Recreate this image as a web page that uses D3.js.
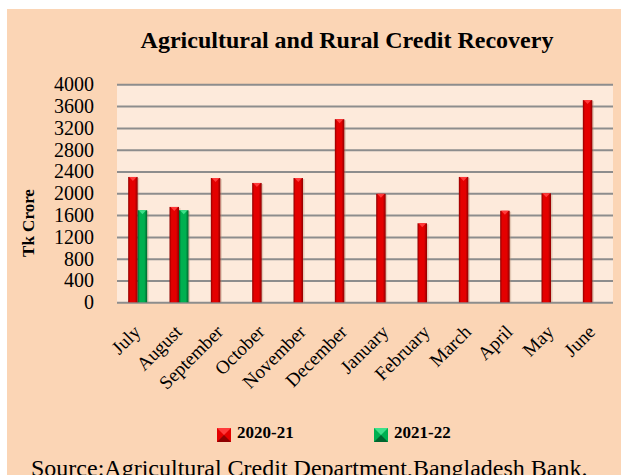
<!DOCTYPE html>
<html>
<head>
<meta charset="utf-8">
<script src="https://cdn.jsdelivr.net/npm/d3@7/dist/d3.min.js"></script>
<style>
  html, body { margin: 0; padding: 0; background: #ffffff; }
  svg { display: block; font-family: "Liberation Serif", "Times New Roman", serif; }
</style>
</head>
<body>
<div id="chart"></div>
<script>
    // data
    var months = ["July", "August", "September", "October", "November", "December",
                  "January", "February", "March", "April", "May", "June"];
    var series = ["2020-21", "2021-22"];
    var values2020 = [2300, 1750, 2280, 2190, 2280, 3360, 1990, 1450, 2300, 1680, 2000, 3710];
    var values2021 = [1690, 1690, null, null, null, null, null, null, null, null, null, null];
    var yTicks = [0, 400, 800, 1200, 1600, 2000, 2400, 2800, 3200, 3600, 4000];

    var colors = {
        "2020-21": { dark: "#8e0000", mid: "#e40000", light: "#ff3a3a" },
        "2021-22": { dark: "#00652e", mid: "#00b050", light: "#3ee08a" }
    };

    var W = 621, H = 475;
    var plot = { left: 117, right: 613, top: 84.3, bottom: 302.3 };

    var svg = d3.select("#chart").append("svg")
        .attr("width", W)
        .attr("height", H);

    var defs = svg.append("defs");
    series.forEach(function (s, i) {
        var g = defs.append("linearGradient")
            .attr("id", "grad" + i)
            .attr("x1", "0").attr("x2", "1").attr("y1", "0").attr("y2", "0");
        g.append("stop").attr("offset", "0%").attr("stop-color", colors[s].dark);
        g.append("stop").attr("offset", "22%").attr("stop-color", colors[s].mid);
        g.append("stop").attr("offset", "70%").attr("stop-color", colors[s].mid);
        g.append("stop").attr("offset", "100%").attr("stop-color", colors[s].dark);
    });

    // background
    svg.append("rect")
        .attr("x", 7).attr("y", 9)
        .attr("width", W - 7).attr("height", H - 9)
        .attr("fill", "#fbd5b5");

    svg.append("rect")
        .attr("x", plot.left).attr("y", plot.top)
        .attr("width", plot.right - plot.left).attr("height", plot.bottom - plot.top)
        .attr("fill", "#fdeadb");

    // scales
    var x0 = d3.scaleBand()
        .domain(months)
        .range([plot.left, plot.right])
        .paddingInner(0.54)
        .paddingOuter(0.27);

    var x1 = d3.scaleBand()
        .domain(series)
        .range([0, x0.bandwidth()]);

    var y = d3.scaleLinear()
        .domain([0, 4000])
        .range([plot.bottom, plot.top]);

    // y axis with gridlines
    var yAxis = svg.append("g")
        .attr("transform", "translate(" + plot.left + ",0)")
        .call(d3.axisLeft(y).tickValues(yTicks).tickFormat(d3.format("d"))
            .tickSize(-(plot.right - plot.left)).tickPadding(23));

    yAxis.select(".domain").remove();
    yAxis.selectAll(".tick line")
        .attr("stroke", "#8d8d8d")
        .attr("stroke-width", 2);
    yAxis.selectAll(".tick text")
        .attr("fill", "#000")
        .style("font-size", "20px")
        .style("font-family", "'Liberation Serif', 'Times New Roman', serif");

    // bars
    var rows = months.map(function (m, i) {
        return { month: m, vals: [
            { key: "2020-21", idx: 0, v: values2020[i] },
            { key: "2021-22", idx: 1, v: values2021[i] }
        ].filter(function (d) { return d.v != null; }) };
    });

    var groups = svg.append("g").selectAll("g")
        .data(rows)
        .enter().append("g")
        .attr("transform", function (d) { return "translate(" + x0(d.month) + ",0)"; });

    var bar = groups.selectAll("g")
        .data(function (d) { return d.vals; })
        .enter().append("g");

    // soft shadow
    bar.append("rect")
        .attr("x", function (d) { return x1(d.key) + 1.5; })
        .attr("y", function (d) { return y(d.v) + 1; })
        .attr("width", x1.bandwidth())
        .attr("height", function (d) { return plot.bottom - y(d.v) - 1; })
        .attr("fill", "#b08a70")
        .attr("opacity", 0.35);

    bar.append("rect")
        .attr("x", function (d) { return x1(d.key); })
        .attr("y", function (d) { return y(d.v); })
        .attr("width", x1.bandwidth())
        .attr("height", function (d) { return plot.bottom - y(d.v); })
        .attr("fill", function (d) { return "url(#grad" + d.idx + ")"; });

    // little bevel on the top of each bar
    bar.append("path")
        .attr("d", function (d) {
            var bx = x1(d.key), bw = x1.bandwidth(), by = y(d.v);
            return "M" + (bx + 1) + "," + by + "L" + (bx + bw - 1) + "," + by +
                   "L" + (bx + bw / 2) + "," + (by + 4) + "Z";
        })
        .attr("fill", function (d) { return colors[d.key].light; });

    // x labels
    svg.append("g").selectAll("text")
        .data(months)
        .enter().append("text")
        .attr("transform", function (d) {
            return "translate(" + (x0(d) + x0.bandwidth() / 2 + 4) + ",333) rotate(-45)";
        })
        .attr("text-anchor", "end")
        .style("font-size", "19px")
        .text(function (d) { return d; });

    // title
    svg.append("text")
        .attr("x", 347).attr("y", 48)
        .attr("text-anchor", "middle")
        .style("font-size", "24px")
        .style("font-weight", "bold")
        .text("Agricultural and Rural Credit Recovery");

    // y axis title
    svg.append("text")
        .attr("transform", "translate(34,223) rotate(-90)")
        .attr("text-anchor", "middle")
        .style("font-size", "17px")
        .style("font-weight", "bold")
        .text("Tk Crore");

    // legend
    var legendX = [217, 374];
    var legend = svg.append("g").selectAll("g")
        .data(series)
        .enter().append("g")
        .attr("transform", function (d, i) { return "translate(" + legendX[i] + ",428)"; });

    legend.append("rect")
        .attr("width", 14).attr("height", 14)
        .attr("fill", function (d) { return colors[d].mid; });
    legend.append("path")
        .attr("d", "M0,0L14,0L7,7Z")
        .attr("fill", function (d) { return colors[d].light; });
    legend.append("path")
        .attr("d", "M0,14L14,14L7,7Z")
        .attr("fill", function (d) { return colors[d].dark; });

    legend.append("text")
        .attr("x", 20).attr("y", 10)
        .style("font-size", "17px")
        .style("font-weight", "bold")
        .text(function (d) { return d; });

    // source (cut by the bottom edge, as in the original)
    svg.append("text")
        .attr("x", 31).attr("y", 476)
        .style("font-size", "24px")
        .text("Source:Agricultural Credit Department,Bangladesh Bank.");
</script>
</body>
</html>
